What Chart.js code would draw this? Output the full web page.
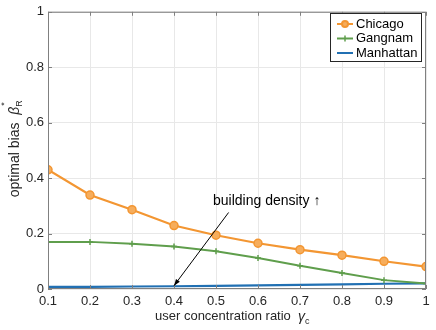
<!DOCTYPE html>
<html>
<head>
<meta charset="utf-8">
<script src="https://cdn.jsdelivr.net/npm/chart.js@4"></script>
<style>
  html, body { margin: 0; padding: 0; background: #fff; }
  #wrap { width: 436px; height: 330px; }
</style>
</head>
<body>
<div id="wrap"><canvas id="biasChart" width="436" height="330"></canvas></div>
<script>
var ratios = [0.1, 0.2, 0.3, 0.4, 0.5, 0.6, 0.7, 0.8, 0.9, 1.0];
var chicago = [0.430, 0.339, 0.286, 0.229, 0.194, 0.165, 0.142, 0.122, 0.100, 0.081];
var gangnam = [0.170, 0.170, 0.163, 0.153, 0.136, 0.112, 0.084, 0.058, 0.032, 0.020];
var manhattan = [0.008, 0.008, 0.009, 0.010, 0.011, 0.013, 0.015, 0.017, 0.019, 0.020];
var cityNames = ['Chicago', 'Gangnam', 'Manhattan'];
var cityColors = ['#f39632', '#5f9e4c', '#2170b3'];
var yTicks = [0, 0.2, 0.4, 0.6, 0.8, 1];

var font = '"Liberation Sans", Arial, sans-serif';

function points(values) {
    return ratios.map(function (r, i) { return { x: r, y: values[i] }; });
}

// box, labels with sub/superscripts, legend and the arrow note
var extras = {
    id: 'extras',
    afterDraw: function (chart) {
        var ctx = chart.ctx;
        var a = chart.chartArea;
        var xs = chart.scales.x, ys = chart.scales.y;
        ctx.save();

        // axes box
        ctx.strokeStyle = '#808080';
        ctx.lineWidth = 1;
        ctx.strokeRect(a.left + 0.5, a.top + 0.5, a.right - a.left - 1, a.bottom - a.top - 1);

        // inward ticks
        ctx.beginPath();
        ratios.forEach(function (r) {
            var px = Math.round(xs.getPixelForValue(r)) + 0.5;
            ctx.moveTo(px, a.bottom); ctx.lineTo(px, a.bottom - 4);
            ctx.moveTo(px, a.top); ctx.lineTo(px, a.top + 4);
        });
        yTicks.forEach(function (v) {
            var py = Math.round(ys.getPixelForValue(v)) + 0.5;
            ctx.moveTo(a.left, py); ctx.lineTo(a.left + 4, py);
            ctx.moveTo(a.right, py); ctx.lineTo(a.right - 4, py);
        });
        ctx.stroke();

        // x axis title
        ctx.fillStyle = '#262626';
        ctx.textBaseline = 'middle';
        ctx.font = '13px ' + font;
        ctx.textAlign = 'left';
        var xt = 'user concentration ratio  ';
        var w1 = ctx.measureText(xt).width;
        ctx.font = 'italic 14px ' + font;
        var wg = ctx.measureText('\u03b3').width;
        var x0 = 155;
        ctx.font = '13px ' + font;
        ctx.fillText(xt, x0, 316);
        ctx.font = 'italic 14px ' + font;
        ctx.fillText('\u03b3', x0 + w1, 317);
        ctx.font = '9px ' + font;
        ctx.fillText('c', x0 + w1 + wg, 322);

        // y axis title, rotated
        ctx.save();
        ctx.translate(15, 148);
        ctx.rotate(-Math.PI / 2);
        ctx.font = '14px ' + font;
        var yt = 'optimal bias  ';
        var wy = ctx.measureText(yt).width;
        ctx.font = 'italic 14px ' + font;
        var wb = ctx.measureText('\u03b2').width;
        var y0 = -(wy + wb + 8) / 2;
        ctx.font = '14px ' + font;
        ctx.fillText(yt, y0, 0);
        ctx.font = 'italic 14px ' + font;
        ctx.fillText('\u03b2', y0 + wy, 0);
        ctx.font = '9px ' + font;
        ctx.fillText('R', y0 + wy + wb, 5);
        ctx.fillText('*', y0 + wy + wb + 1, -10);
        ctx.restore();

        // arrow note
        var tx = xs.getPixelForValue(0.53), ty = ys.getPixelForValue(0.276);
        var hx = xs.getPixelForValue(0.4), hy = ys.getPixelForValue(0.012);
        ctx.strokeStyle = '#000';
        ctx.fillStyle = '#000';
        ctx.lineWidth = 1;
        ctx.beginPath();
        ctx.moveTo(tx, ty); ctx.lineTo(hx, hy); ctx.stroke();
        var ang = Math.atan2(hy - ty, hx - tx);
        ctx.beginPath();
        ctx.moveTo(hx, hy);
        ctx.lineTo(hx - 7 * Math.cos(ang - 0.35), hy - 7 * Math.sin(ang - 0.35));
        ctx.lineTo(hx - 7 * Math.cos(ang + 0.35), hy - 7 * Math.sin(ang + 0.35));
        ctx.closePath(); ctx.fill();
        ctx.font = '14px ' + font;
        ctx.textAlign = 'left';
        ctx.fillText('building density \u2191', 213, 201);

        // legend
        var lx = 330, ly = 13, lw = 91, lh = 48;
        ctx.fillStyle = '#fff';
        ctx.fillRect(lx, ly, lw, lh);
        ctx.strokeStyle = '#262626';
        ctx.strokeRect(lx + 0.5, ly + 0.5, lw, lh);
        cityNames.forEach(function (name, i) {
            var ry = ly + 11 + i * 14.5;
            ctx.strokeStyle = cityColors[i];
            ctx.lineWidth = 2;
            ctx.beginPath(); ctx.moveTo(lx + 7, ry); ctx.lineTo(lx + 23, ry); ctx.stroke();
            if (i === 0) {
                ctx.fillStyle = '#f6ad5c';
                ctx.beginPath(); ctx.arc(lx + 15, ry, 3, 0, Math.PI * 2); ctx.fill(); ctx.stroke();
            } else if (i === 1) {
                ctx.lineWidth = 1.5;
                ctx.beginPath(); ctx.moveTo(lx + 15, ry - 3); ctx.lineTo(lx + 15, ry + 3); ctx.stroke();
            }
            ctx.fillStyle = '#000';
            ctx.font = '13px ' + font;
            ctx.fillText(name, lx + 26, ry);
        });
        ctx.restore();
    }
};

new Chart(document.getElementById('biasChart').getContext('2d'), {
    type: 'line',
    data: {
        datasets: [{
            label: cityNames[0],
            data: points(chicago),
            borderColor: cityColors[0],
            backgroundColor: '#f6ad5c',
            borderWidth: 2.2,
            pointStyle: 'circle',
            pointRadius: 4,
            pointBorderWidth: 1.5
        }, {
            label: cityNames[1],
            data: points(gangnam),
            borderColor: cityColors[1],
            backgroundColor: cityColors[1],
            borderWidth: 2,
            pointStyle: 'cross',
            pointRadius: 3,
            pointBorderWidth: 1.5
        }, {
            label: cityNames[2],
            data: points(manhattan),
            borderColor: cityColors[2],
            backgroundColor: cityColors[2],
            borderWidth: 2.2,
            pointRadius: 0
        }]
    },
    options: {
        responsive: false,
        animation: false,
        layout: { padding: { left: 0, right: 10, top: 10, bottom: 0 } },
        plugins: { legend: { display: false }, tooltip: { enabled: false } },
        scales: {
            x: {
                type: 'linear',
                min: 0.1,
                max: 1,
                afterFit: function (s) { s.height = 41; },
                afterBuildTicks: function (s) { s.ticks = ratios.map(function (v) { return { value: v }; }); },
                grid: { color: '#e8e8e8', drawTicks: false },
                border: { display: false },
                ticks: {
                    padding: 5,
                    color: '#262626',
                    font: { family: font, size: 13 },
                    callback: function (v) { return Math.round(v * 10) / 10 + ''; }
                }
            },
            y: {
                min: 0,
                max: 1,
                afterFit: function (s) { s.width = 48; },
                afterBuildTicks: function (s) { s.ticks = yTicks.map(function (v) { return { value: v }; }); },
                grid: { color: '#e8e8e8', drawTicks: false },
                border: { display: false },
                ticks: {
                    padding: 4,
                    color: '#262626',
                    font: { family: font, size: 13 },
                    callback: function (v) { return Math.round(v * 10) / 10 + ''; }
                }
            }
        }
    },
    plugins: [extras]
});
</script>
</body>
</html>
